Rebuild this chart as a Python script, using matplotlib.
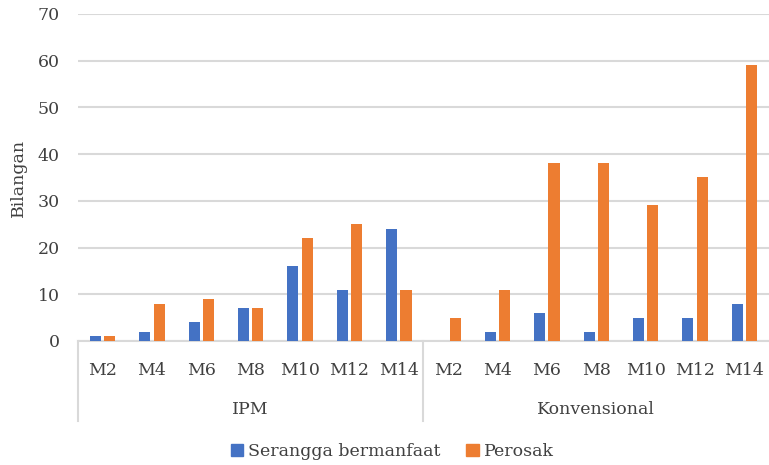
import matplotlib.pyplot as plt
import matplotlib.patches as mpatches
import numpy as np

plt.rcParams['font.family'] = ['DejaVu Serif']

groups = ['IPM', 'Konvensional']
weeks = ['M2', 'M4', 'M6', 'M8', 'M10', 'M12', 'M14']
serangga = [1, 2, 4, 7, 16, 11, 24, 0, 2, 6, 2, 5, 5, 8]
perosak = [1, 8, 9, 7, 22, 25, 11, 5, 11, 38, 38, 29, 35, 59]

blue = '#4472C4'
orange = '#ED7D31'
grid_c = '#D9D9D9'
txt_c = '#404040'
fs = 12.5

fig = plt.figure(figsize=(7.69, 4.65), dpi=100)
ax = fig.add_axes([0.1014, 0.2667, 0.8986, 0.7033])

x = np.arange(len(serangga))
w = 0.225
ax.bar(x - 0.145, serangga, w, color=blue, zorder=3)
ax.bar(x + 0.145, perosak, w, color=orange, zorder=3)

ax.set_xlim(-0.5, len(x) - 0.5)
ax.set_ylim(0, 70)
ax.set_yticks(range(0, 71, 10))
ax.yaxis.grid(True, color=grid_c, linewidth=1.5)
ax.set_axisbelow(True)
for s in ['top', 'right', 'left']:
    ax.spines[s].set_visible(False)
ax.spines['bottom'].set_color(grid_c)
ax.spines['bottom'].set_linewidth(1.5)
ax.tick_params(axis='y', length=0, labelsize=fs, colors=txt_c, pad=13)
ax.tick_params(axis='x', length=0)
ax.set_xticks([])
ax.set_ylabel('Bilangan', fontsize=fs, color=txt_c, labelpad=8)

# two-level category axis
trans = ax.get_xaxis_transform()
for i in x:
    ax.text(i, -0.089, weeks[i % 7], transform=trans, ha='center', va='center',
            fontsize=fs, color=txt_c)
for g, name in enumerate(groups):
    ax.text(g * 7 + 3, -0.208, name, transform=trans, ha='center', va='center',
            fontsize=fs, color=txt_c)
for xv in [-0.5, 6.5]:
    ax.plot([xv, xv], [0, -0.245], transform=trans, color=grid_c, lw=1.5,
            clip_on=False)

handles = [mpatches.Patch(color=blue, label='Serangga bermanfaat'),
           mpatches.Patch(color=orange, label='Perosak')]
leg = fig.legend(handles=handles, loc='center', bbox_to_anchor=(0.51, 0.028),
                 ncol=2, frameon=False, fontsize=fs, handlelength=0.7,
                 handleheight=0.7, handletextpad=0.3, columnspacing=1.5)
for t in leg.get_texts():
    t.set_color(txt_c)

fig.savefig('out.png', dpi=100)
